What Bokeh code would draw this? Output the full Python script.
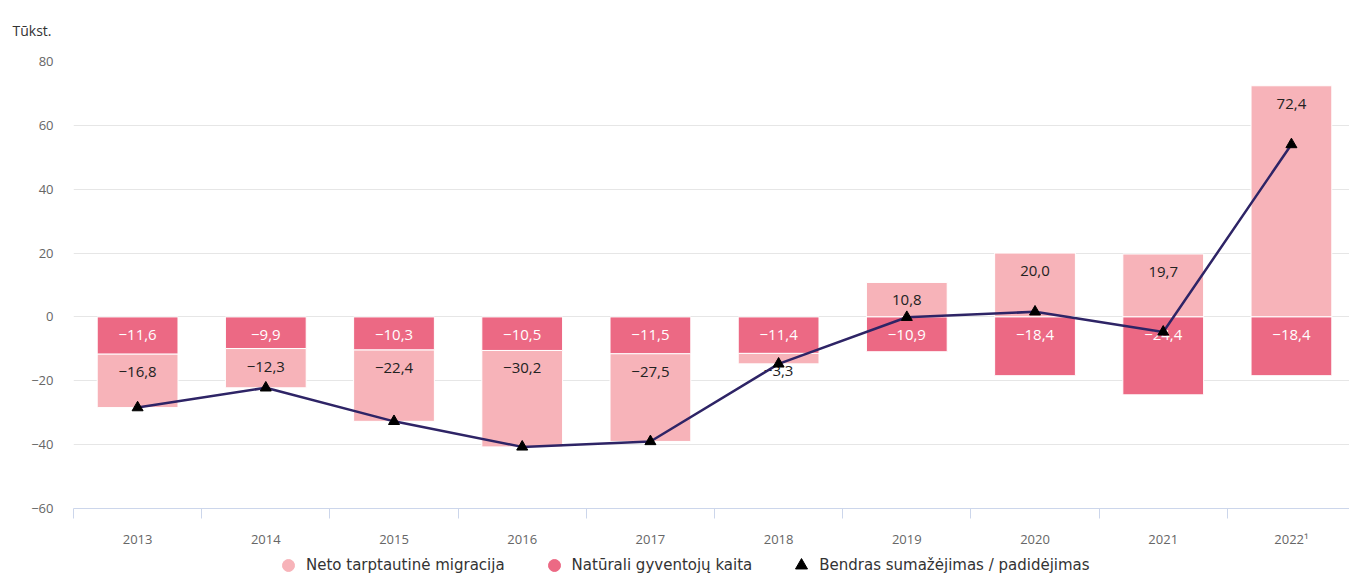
from bokeh.plotting import figure
from bokeh.layouts import column
from bokeh.models import ColumnDataSource, FixedTicker, Legend, LegendItem, Range1d
from bokeh.core.properties import value
from bokeh.embed import file_html
from bokeh.resources import INLINE

years = ["2013", "2014", "2015", "2016", "2017", "2018", "2019", "2020", "2021", "2022¹"]
migration = [-16.8, -12.3, -22.4, -30.2, -27.5, -3.3, 10.8, 20.0, 19.7, 72.4]
natural = [-11.6, -9.9, -10.3, -10.5, -11.5, -11.4, -10.9, -18.4, -24.4, -18.4]
total = [-28.4, -22.2, -32.7, -40.7, -39.0, -14.7, -0.1, 1.6, -4.7, 54.0]

LIGHT = "#f7b3b9"
DARK = "#ec6984"
LINE = "#2e2466"
FONT = "Open Sans"


def fmt(v):
    return f"{v:.1f}".replace(".", ",").replace("-", "−")


xs = list(range(len(years)))
nat_bottom = [min(0, n) for n in natural]
nat_top = [max(0, n) for n in natural]
mig_bottom = []
mig_top = []
for m, n in zip(migration, natural):
    if m < 0:
        mig_bottom.append(n + m)
        mig_top.append(n)
    else:
        mig_bottom.append(0)
        mig_top.append(m)

src = ColumnDataSource(dict(
    x=xs, nat_b=nat_bottom, nat_t=nat_top, mig_b=mig_bottom, mig_t=mig_top,
    nat_lab=[fmt(v) for v in natural], mig_lab=[fmt(v) for v in migration],
    total=total,
))

p = figure(width=1349, height=550, x_range=Range1d(-0.5, 9.453), y_range=Range1d(-60, 80),
           output_backend="svg", toolbar_location=None,
           min_border_left=73, min_border_right=0, min_border_top=61, min_border_bottom=42)
p.outline_line_color = None
p.background_fill_color = "white"

# title
p.title.text = "Tūkst."
p.title.align = "left"
p.title.vertical_align = "top"
p.title.offset = -61
p.title.text_font = FONT
p.title.text_font_size = "14px"
p.title.text_font_style = "normal"
p.title.text_color = "#333333"
p.title.standoff = 40

# bars
p.vbar(x="x", bottom="mig_b", top="mig_t", width=0.63, source=src,
       fill_color=LIGHT, line_color="white", line_width=1)
p.vbar(x="x", bottom="nat_b", top="nat_t", width=0.63, source=src,
       fill_color=DARK, line_color="white", line_width=1)

# data labels
p.text(x="x", y="mig_t", text="mig_lab", source=src, text_align="center",
       text_baseline="middle", y_offset=18, text_font=value(FONT),
       text_font_size="15px", text_color="#222222")
p.text(x="x", y="nat_t", text="nat_lab", source=src, text_align="center",
       text_baseline="middle", y_offset=18, text_font=value(FONT),
       text_font_size="15px", text_color="white")

# total line
p.line(x="x", y="total", source=src, line_color=LINE, line_width=2.5)
p.scatter(x="x", y="total", source=src, marker="triangle", size=11,
          fill_color="black", line_color="black")

# axes
p.yaxis.ticker = FixedTicker(ticks=[-60, -40, -20, 0, 20, 40, 60, 80])
p.yaxis.axis_line_color = None
p.yaxis.major_tick_line_color = None
p.yaxis.minor_tick_line_color = None
p.yaxis.major_tick_out = 0
p.yaxis.major_label_standoff = 20
p.yaxis.major_label_text_font = FONT
p.yaxis.major_label_text_font_size = "13px"
p.yaxis.major_label_text_color = "#666666"

p.xaxis.ticker = FixedTicker(ticks=xs, minor_ticks=[i - 0.5 for i in range(len(years) + 1)])
p.xaxis.major_label_overrides = {i: y for i, y in enumerate(years)}
p.xaxis.axis_line_color = "#ccd6eb"
p.xaxis.major_tick_line_color = None
p.xaxis.major_tick_out = 0
p.xaxis.major_tick_in = 0
p.xaxis.minor_tick_line_color = "#ccd6eb"
p.xaxis.minor_tick_out = 10
p.xaxis.minor_tick_in = 0
p.xaxis.major_label_standoff = 11
p.xaxis.major_label_text_font = FONT
p.xaxis.major_label_text_font_size = "13px"
p.xaxis.major_label_text_color = "#666666"

p.xgrid.grid_line_color = None
p.ygrid.grid_line_color = "#e6e6e6"
p.ygrid.ticker = FixedTicker(ticks=[-60, -40, -20, 0, 20, 40, 60, 80])

# legend figure
lf = figure(width=1349, height=30, output_backend="svg", toolbar_location=None,
            x_range=Range1d(0, 1), y_range=Range1d(0, 1),
            min_border_left=0, min_border_right=0, min_border_top=0, min_border_bottom=0)
lf.axis.visible = False
lf.grid.visible = False
lf.outline_line_color = None
# proxy renderers, their single point lies outside the visible range
leg_mig = lf.scatter(x=[-5], y=[-5], marker="circle", size=13, fill_color=LIGHT, line_color=LIGHT)
leg_nat = lf.scatter(x=[-5], y=[-5], marker="circle", size=13, fill_color=DARK, line_color=DARK)
leg_tot = lf.scatter(x=[-5], y=[-5], marker="triangle", size=9, fill_color="black", line_color="black")

legend = Legend(items=[
    LegendItem(label="Neto tarptautinė migracija", renderers=[leg_mig]),
    LegendItem(label="Natūrali gyventojų kaita", renderers=[leg_nat]),
    LegendItem(label="Bendras sumažėjimas / padidėjimas", renderers=[leg_tot]),
], orientation="horizontal", location=(200, 0))
legend.border_line_color = None
legend.background_fill_alpha = 0
legend.label_text_font = "DejaVu Sans"
legend.label_text_font_size = "15px"
legend.label_text_color = "#333333"
legend.glyph_width = 30
legend.glyph_height = 30
legend.spacing = 34
legend.padding = 0
legend.margin = 0
legend.label_standoff = 3
lf.add_layout(legend, "center")

layout = column(p, lf, spacing=0)
open("out.html", "w").write(file_html(layout, INLINE))
